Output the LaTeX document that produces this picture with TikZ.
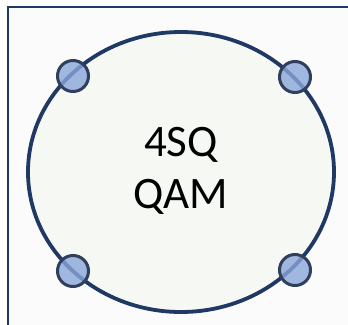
\documentclass[tikz,border=0pt]{standalone}
\usepackage{fontspec}
\setmainfont{Carlito}
\definecolor{navy}{HTML}{1F3864}
\definecolor{ringline}{HTML}{2F3F5C}
\definecolor{dotfill}{HTML}{8AA6DA}
\definecolor{discfill}{HTML}{F6F8F3}
\definecolor{pagebg}{HTML}{FBFBFB}
\tikzset{
  frame/.style={draw=navy, line width=2.8pt},
  disc/.style={draw=navy, line width=3.8pt, fill=discfill},
  point/.style={circle, draw=ringline, line width=3pt, fill=dotfill, fill opacity=0.8, minimum size=31pt, inner sep=0pt},
  caption/.style={font=\fontsize{45}{52}\selectfont, align=center, text=black}
}
\begin{document}
\begin{tikzpicture}[x=1pt, y=-1pt]
  \useasboundingbox (0,0) rectangle (348,324);
  \fill[white] (0,0) rectangle (348,324);
  % framing panel, running off the right and bottom edges
  \fill[pagebg] (8,7) rectangle (360,340);
  \draw[frame] (8,340) -- (8,7) -- (360,7);
  % constellation boundary
  \draw[disc] (181,172) ellipse [x radius=153, y radius=140];
  \node[caption] (label) at (181,171) {4SQ\\QAM};
  % constellation points
  \node[point] (p1) at (73,76) {};
  \node[point] (p2) at (295,77) {};
  \node[point] (p3) at (73,271) {};
  \node[point] (p4) at (295,270) {};
\end{tikzpicture}
\end{document}
